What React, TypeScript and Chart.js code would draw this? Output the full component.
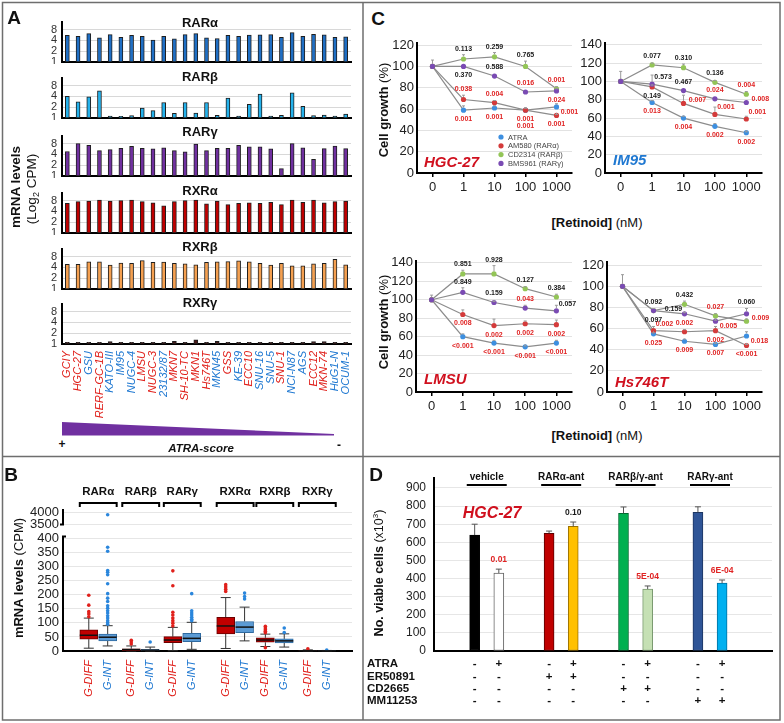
import React, { useEffect, useRef } from 'react';
import { Chart, registerables } from 'chart.js';

Chart.register(...registerables);

const FONT = 'Arial, "Liberation Sans", Helvetica, sans-serif';
Chart.defaults.font.family = FONT;
Chart.defaults.color = '#222';

const RED_TXT = '#e0201b';
const BLUE_TXT = '#1f78d1';

// ================= Panel A data =================
const cellLines = ['GCIY', 'HGC-27', 'GSU', 'RERF-GC-1B', 'KATO-III', 'IM95', 'NUGC-4', 'LMSU', 'NUGC-3', '23132/87', 'MKN7', 'SH-10-TC', 'MKN1', 'Hs746T', 'MKN45', 'GSS', 'KE-39', 'ECC10', 'SNU-16', 'SNU-5', 'SNU-1', 'NCI-N87', 'AGS', 'ECC12', 'MKN-74', 'HuG1-N', 'OCUM-1'];
const cellGroup = ['D', 'D', 'I', 'D', 'I', 'I', 'I', 'D', 'D', 'I', 'D', 'D', 'D', 'D', 'I', 'D', 'I', 'D', 'I', 'I', 'D', 'I', 'I', 'D', 'D', 'I', 'I'];
const aTicks = [1, 2, 4, 8];
const rarA = [5.5, 5.2, 6.2, 4.7, 5.8, 4.9, 5.5, 5.2, 4.1, 5.2, 4.4, 5.8, 6.2, 4.7, 4.5, 5.5, 5.2, 5.6, 5.7, 5.8, 4.9, 6.6, 5.2, 5.9, 5.7, 4.9, 5.0];
const rarB = [4.0, 2.8, 3.9, 5.7, 1.14, 1.11, 1.16, 1.9, 1.6, 2.7, 1.35, 2.7, 1.37, 2.7, 1.18, 3.6, 1.14, 2.4, 4.6, 1.14, 1.18, 5.0, 2.1, 1.16, 1.21, 1.14, 1.29];
const rarG = [4.8, 8.0, 7.2, 5.1, 5.4, 5.9, 6.7, 5.9, 5.7, 6.1, 5.1, 4.7, 7.7, 5.1, 5.9, 5.9, 7.2, 6.5, 6.5, 5.7, 1.6, 8.0, 6.1, 2.9, 5.8, 6.8, 5.8];
const rxrA = [6.7, 7.5, 7.8, 8.3, 7.8, 8.0, 8.3, 7.5, 6.9, 5.7, 7.5, 8.0, 8.3, 6.5, 7.7, 6.2, 6.7, 6.9, 6.7, 7.2, 6.2, 8.3, 7.2, 8.3, 6.9, 7.5, 7.8];
const rxrB = [4.9, 4.9, 5.7, 5.7, 4.6, 5.3, 5.2, 6.2, 5.5, 5.6, 5.2, 5.0, 4.7, 5.5, 5.7, 5.8, 6.1, 5.7, 5.2, 4.6, 5.2, 4.4, 4.4, 5.0, 5.2, 6.7, 4.7];
const rxrG = [1.12, 1.12, 1.12, 1.12, 1.16, 1.12, 1.12, 1.12, 1.12, 1.12, 1.18, 1.12, 1.3, 1.12, 1.18, 1.12, 1.12, 1.12, 1.12, 1.12, 1.12, 1.12, 1.12, 1.16, 1.16, 1.12, 1.12];
const geneNames = ['RARα', 'RARβ', 'RARγ', 'RXRα', 'RXRβ', 'RXRγ'];
const geneColors = ['#1f6fc5', '#25b2ec', '#7030a0', '#c00000', '#f5a050', '#4a1a1a'];
const geneValues = [rarA, rarB, rarG, rxrA, rxrB, rxrG];

// ================= Panel B data =================
const boxGroups = ['G-DIFF', 'G-INT'];
// [lower whisker, q1, median, q3, upper whisker]
const boxStats = [
  [10, 42, 56, 75, 117], [18, 36, 49, 60, 90],
  [0, 1, 5, 8, 18], [0, 1, 3, 6, 14],
  [1, 30, 39, 51, 84], [6, 33, 45, 63, 102],
  [9, 61, 89, 120, 190], [36, 65, 85, 105, 156],
  [16, 31, 39, 47, 60], [14, 29, 36, 43, 61],
  [0, 0.3, 1, 2, 4], [0, 0.2, 0.5, 1, 2],
];
const boxOutliers = [
  [122, 132, 140, 163, 198],
  [95, 101, 108, 117, 125, 135, 143, 152, 161, 176, 188, 204, 239, 271, 280, 286, 355, 369, 3900],
  [25, 32, 38],
  [32],
  [89, 99, 108, 117, 128, 138, 232, 285],
  [108, 113, 120, 128, 135, 143, 204],
  [212, 220, 228, 236],
  [185, 194, 206],
  [12, 65, 70, 76, 82, 88],
  [66, 82],
  [8],
  [3],
];
const bTickVals = [0, 50, 100, 150, 200, 250, 300, 350, 400, 3500, 4000];

// ================= Panel C data =================
const doses = ['0', '1', '10', '100', '1000'];
const seriesNames = ['ATRA', 'AM580 (RARα)', 'CD2314 (RARβ)', 'BMS961 (RARγ)'];
const seriesColors = ['#3d8fe0', '#d43b3b', '#93c557', '#7a4bb3'];

const hgcGrowth = [[100, 59, 61, 59, 62], [100, 69, 66, 59, 54], [100, 107, 109, 100, 79], [100, 100, 91, 76, 77]];
const hgcErr = [[0, 4, 2, 2, 3], [0, 4, 2, 2, 1], [0, 4, 4, 5, 2], [6, 0, 0, 0, 2]];
const hgcP = [['0.001', '0.001', '0.001', '0.001'], ['0.038', '0.004', '0.001', '0.001'], ['0.113', '0.259', '0.765', '0.001'], ['0.370', '0.588', '0.016', '0.024']];
const hgcPos = [['b', 'b', 'b', 'rd'], ['a', 'a', 'B', 'b'], ['a', 'a', 'a', 'a'], ['b', 'a', 'a', 'b']];

const imGrowth = [[100, 77, 60, 51, 44], [100, 94, 76, 64, 59], [100, 118, 115, 99, 86], [100, 97, 90, 81, 77]];
const imErr = [[0, 2, 2, 3, 1], [0, 2, 9, 8, 3], [0, 2, 4, 2, 3], [11, 10, 0, 0, 0]];
const imP = [['0.013', '0.004', '0.002', '0.002'], ['0.149', '0.007', '0.001', '0.001'], ['0.077', '0.310', '0.136', '0.004'], ['0.573', '0.467', '0.024', '0.008']];
const imPos = [['b', 'b', 'b', 'b'], ['b', 'r', 'ar', 'ar'], ['a', 'a', 'a', 'a'], ['ar', 'a', 'a', 'r']];

const lmGrowth = [[100, 60, 53, 49, 53], [100, 84, 72, 74, 73], [100, 128, 128, 112, 103], [100, 108, 97, 91, 88]];
const lmErr = [[0, 3, 3, 1, 3], [0, 5, 7, 3, 5], [0, 4, 9, 2, 3], [5, 5, 1, 3, 6]];
const lmP = [['<0.001', '<0.001', '<0.001', '<0.001'], ['0.008', '0.002', '0.002', '0.002'], ['0.851', '0.928', '0.127', '0.384'], ['0.849', '0.159', '0.043', '0.057']];
const lmPos = [['b', 'b', 'b', 'b'], ['b', 'b', 'b', 'b'], ['a', 'a', 'a', 'a'], ['a', 'a', 'a', 'ar']];

const hsGrowth = [[100, 55, 48, 45, 53], [100, 58, 57, 58, 44], [100, 77, 83, 72, 67], [100, 77, 74, 67, 74]];
const hsErr = [[0, 1, 2, 1, 4], [0, 4, 2, 4, 1], [0, 2, 3, 2, 2], [11, 2, 1, 1, 5]];
const hsP = [['0.025', '0.009', '0.007', '0.018'], ['0.002', '0.002', '0.002', '<0.001'], ['0.092', '0.432', '0.027', '0.009'], ['0.097', '0.159', '0.005', '0.060']];
const hsPos = [['b', 'b', 'b', 'rd'], ['ar', 'a', 'b', 'b'], ['a', 'a', 'a', 'r'], ['b', 'al', 'rd', 'a']];

// ================= Panel D data =================
const dGroups = ['vehicle', 'RARα-ant', 'RARβ/γ-ant', 'RARγ-ant'];
const dViable = [640, 430, 650, 688, 760, 342, 766, 375];
const dErr = [60, 22, 12, 24, 35, 17, 30, 17];
const dP = ['', '0.01', '', '0.10', '', '5E-04', '', '6E-04'];
const dRows = ['ATRA', 'ER50891', 'CD2665', 'MM11253'];
const dSigns = [
  ['-', '+', '-', '+', '-', '+', '-', '+'],
  ['-', '-', '+', '+', '-', '-', '-', '-'],
  ['-', '-', '-', '-', '+', '+', '-', '-'],
  ['-', '-', '-', '-', '-', '-', '+', '+'],
];
const dFill = ['#000000', '#ffffff', '#c00000', '#ffc000', '#00b050', '#c5e0b4', '#2f5597', '#00b0f0'];
const dStroke = ['#000000', '#666666', '#5a0000', '#9a7000', '#006a30', '#7a9a70', '#1c3560', '#0070a0'];

// ================= helpers =================
type Rect = { l: number; t: number; w: number; h: number };
type Area = { l: number; t: number; r: number; b: number };

function zeroPad(s: any) {
  s.paddingLeft = 0; s.paddingRight = 0; s.paddingTop = 0; s.paddingBottom = 0;
}
function frame(box: Rect, area: Area) {
  return {
    padding: { left: 0, top: area.t - box.t, right: box.l + box.w - area.r, bottom: 0 },
    yFit: (s: any) => { s.width = area.l - box.l; zeroPad(s); },
    xFit: (s: any) => { s.height = box.t + box.h - area.b; zeroPad(s); },
  };
}
function baseOpts(f: any) {
  return {
    responsive: false,
    animation: false,
    devicePixelRatio: 1,
    events: [],
    layout: { padding: f.padding },
    plugins: { legend: { display: false }, tooltip: { enabled: false }, title: { display: false } },
  };
}
function isSig(p: string) {
  if (p.startsWith('<')) return true;
  return parseFloat(p) < 0.05;
}
function seg(ctx: any, x1: number, y1: number, x2: number, y2: number) {
  ctx.beginPath(); ctx.moveTo(x1, y1); ctx.lineTo(x2, y2); ctx.stroke();
}

// ================= Panel A charts =================
const aBaselines = [62, 118, 175.5, 233, 289, 344];
const aTitleY = [22, 76, 131, 190, 246, 302];

function geneChart(k: number) {
  const base = aBaselines[k];
  const last = k === geneValues.length - 1;
  const box = { l: 20, t: base - 50, w: 340, h: last ? 428 - (base - 50) : 52 };
  const area = { l: 62, t: base - 40, r: 351, b: base };
  const f = frame(box, area);
  const config = {
    type: 'bar',
    data: {
      labels: cellLines,
      datasets: [{
        data: geneValues[k], backgroundColor: geneColors[k], borderColor: '#1e1e1e',
        borderWidth: 1, barThickness: 4, borderSkipped: false,
      }],
    },
    options: {
      ...baseOpts(f),
      scales: {
        x: {
          grid: { display: false, drawTicks: false },
          border: { display: true, color: '#000', width: 2 },
          ticks: {
            display: last, autoSkip: false, minRotation: 90, maxRotation: 90, padding: 7,
            color: (c: any) => (cellGroup[c.index] === 'D' ? RED_TXT : BLUE_TXT),
            font: { size: 11, style: 'italic' },
          },
          afterFit: f.xFit,
        },
        y: {
          type: 'logarithmic', min: 1, max: 13,
          afterBuildTicks: (s: any) => { s.ticks = aTicks.map((v) => ({ value: v })); },
          ticks: { autoSkip: false, callback: (v: any) => String(v), color: '#333', font: { size: 11 }, padding: 5 },
          grid: { color: (c: any) => (c.tick && c.tick.value === 1 ? 'rgba(0,0,0,0)' : '#d8d8d8'), drawTicks: false },
          border: { display: true, color: '#000', width: 2 },
          afterFit: f.yFit,
        },
      },
    },
  };
  return { box, config };
}

// ================= Panel B chart =================
const brk = (v: number) => (v <= 400 ? v : 450 + (v - 3500) * 0.086);
const bPairStart = [0, 2.25, 4.45, 7.25, 9.35, 11.6];
const bx = bPairStart.flatMap((p) => [p, p + 1]);
const bGenes = ['RARα', 'RARβ', 'RARγ', 'RXRα', 'RXRβ', 'RXRγ'];

function boxChart() {
  const box = { l: 10, t: 482, w: 350, h: 222 };
  const area = { l: 63, t: 509, r: 352, b: 651 };
  const f = frame(box, area);
  const red: any[] = [];
  const blue: any[] = [];
  boxOutliers.forEach((arr, i) => arr.forEach((v) => (i % 2 ? blue : red).push({ x: bx[i], y: brk(v) })));
  const half = 9;
  const plugin = {
    id: 'boxplot',
    beforeDatasetsDraw(chart: any) {
      const { ctx, scales: { x, y } } = chart;
      ctx.save();
      ctx.strokeStyle = '#333'; ctx.lineWidth = 1;
      boxStats.forEach((s, i) => {
        const px = x.getPixelForValue(bx[i]);
        seg(ctx, px, y.getPixelForValue(s[3]), px, y.getPixelForValue(s[4]));
        seg(ctx, px - 5, y.getPixelForValue(s[4]), px + 5, y.getPixelForValue(s[4]));
        seg(ctx, px, y.getPixelForValue(s[1]), px, y.getPixelForValue(s[0]));
        seg(ctx, px - 5, y.getPixelForValue(s[0]), px + 5, y.getPixelForValue(s[0]));
      });
      ctx.restore();
    },
    afterDatasetsDraw(chart: any) {
      const { ctx, scales: { x, y } } = chart;
      ctx.save();
      ctx.strokeStyle = '#111'; ctx.lineWidth = 1.5;
      boxStats.forEach((s, i) => {
        const px = x.getPixelForValue(bx[i]);
        const py = y.getPixelForValue(s[2]);
        seg(ctx, px - half, py, px + half, py);
      });
      ctx.restore();
    },
    afterDraw(chart: any) {
      const { ctx, chartArea, scales: { x, y } } = chart;
      ctx.save();
      ctx.strokeStyle = '#000'; ctx.lineWidth = 2;
      ctx.fillStyle = '#111';
      ctx.font = `bold 11.5px ${FONT}`;
      ctx.textAlign = 'center'; ctx.textBaseline = 'middle';
      bGenes.forEach((g, k) => {
        const x1 = x.getPixelForValue(bx[2 * k]) - half;
        const x2 = x.getPixelForValue(bx[2 * k + 1]) + half;
        const yy = 21;
        ctx.beginPath(); ctx.moveTo(x1, yy + 4); ctx.lineTo(x1, yy); ctx.lineTo(x2, yy); ctx.lineTo(x2, yy + 4); ctx.stroke();
        ctx.fillText(g, (x1 + x2) / 2, 10);
      });
      const ax = chartArea.left;
      const y0 = y.getPixelForValue(0);
      const y400 = y.getPixelForValue(400) - 2;
      const y3500 = y.getPixelForValue(brk(3500));
      ctx.beginPath(); ctx.moveTo(ax, y0 + 1); ctx.lineTo(ax, y400); ctx.lineTo(ax + 3, y400); ctx.stroke();
      ctx.beginPath(); ctx.moveTo(ax, chartArea.top); ctx.lineTo(ax, y3500); ctx.lineTo(ax - 3, y3500); ctx.stroke();
      ctx.restore();
    },
  };
  const config = {
    type: 'bar',
    data: {
      datasets: [
        {
          type: 'bar',
          data: boxStats.map((s, i) => ({ x: bx[i], y: [s[1], s[3]] })),
          backgroundColor: bx.map((_, i) => (i % 2 ? '#5b9bd5' : '#c00000')),
          borderColor: bx.map((_, i) => (i % 2 ? '#2f6aa0' : '#6b0000')),
          borderWidth: 1, barThickness: 18, grouped: false, borderSkipped: false, order: 2,
        },
        { type: 'scatter', data: red, backgroundColor: '#e0201b', borderWidth: 0, pointRadius: 1.8, order: 1 },
        { type: 'scatter', data: blue, backgroundColor: '#2a86dc', borderWidth: 0, pointRadius: 1.8, order: 0 },
      ],
    },
    options: {
      ...baseOpts(f),
      scales: {
        x: {
          type: 'linear', min: -0.728, max: 13.3,
          afterBuildTicks: (s: any) => { s.ticks = bx.map((v) => ({ value: v })); },
          grid: { display: false, drawTicks: false },
          border: { display: true, color: '#000', width: 2 },
          ticks: {
            autoSkip: false, minRotation: 90, maxRotation: 90, padding: 9,
            callback: (_v: any, i: number) => boxGroups[i % 2],
            color: (c: any) => (c.index % 2 ? BLUE_TXT : RED_TXT),
            font: { size: 11, style: 'italic' },
          },
          afterFit: f.xFit,
        },
        y: {
          type: 'linear', min: 0, max: 505,
          afterBuildTicks: (s: any) => { s.ticks = bTickVals.map((v) => ({ value: brk(v) })); },
          ticks: { autoSkip: false, callback: (_v: any, i: number) => String(bTickVals[i]), color: '#222', font: { size: 13 }, padding: 4 },
          grid: { color: (c: any) => (c.tick && c.tick.value === 0 ? 'rgba(0,0,0,0)' : '#e6e6e6'), drawTicks: false },
          border: { display: false },
          afterFit: f.yFit,
        },
      },
    },
    plugins: [plugin],
  };
  return { box, config };
}

// ================= Panel C charts =================
const pOffsets: Record<string, [number, number]> = {
  a: [0, -6], b: [0, 9], B: [0, 16], r: [14, -3], rd: [13, 5], ar: [11, -7], al: [-11, -5],
};
const cSpecs = [
  { name: 'HGC-27', box: { l: 386, t: 30, w: 192, h: 172 }, area: { l: 417, t: 43, r: 572, b: 173 }, max: 122, tickMax: 120, values: hgcGrowth, errs: hgcErr, pvals: hgcP, pos: hgcPos, legend: true },
  { name: 'IM95', box: { l: 578, t: 30, w: 200, h: 172 }, area: { l: 605, t: 43, r: 762, b: 173 }, max: 142, tickMax: 140, values: imGrowth, errs: imErr, pvals: imP, pos: imPos, legend: false },
  { name: 'LMSU', box: { l: 386, t: 249, w: 192, h: 172 }, area: { l: 416, t: 261, r: 572, b: 392 }, max: 142, tickMax: 140, values: lmGrowth, errs: lmErr, pvals: lmP, pos: lmPos, legend: false },
  { name: 'Hs746T', box: { l: 578, t: 249, w: 200, h: 172 }, area: { l: 607, t: 262, r: 762, b: 392 }, max: 123, tickMax: 120, values: hsGrowth, errs: hsErr, pvals: hsP, pos: hsPos, legend: false },
];

function growthChart(spec: any) {
  const f = frame(spec.box, spec.area);
  const ticks: number[] = [];
  for (let v = 0; v <= spec.tickMax; v += 20) ticks.push(v);
  const plugin = {
    id: 'growthAnnot',
    afterDatasetsDraw(chart: any) {
      const { ctx, scales: { y } } = chart;
      ctx.save();
      ctx.strokeStyle = '#9a9a9a'; ctx.lineWidth = 1;
      spec.values.forEach((vals: number[], s: number) => {
        const meta = chart.getDatasetMeta(s);
        vals.forEach((v, i) => {
          const e = spec.errs[s][i];
          if (!e) return;
          const el = meta.data[i];
          const ty = y.getPixelForValue(v + e);
          seg(ctx, el.x, el.y - 2.6, el.x, ty);
          seg(ctx, el.x - 1.5, ty, el.x + 1.5, ty);
        });
      });
      ctx.font = `bold 7px ${FONT}`;
      ctx.textAlign = 'center'; ctx.textBaseline = 'middle';
      spec.pvals.forEach((ps: string[], s: number) => {
        const meta = chart.getDatasetMeta(s);
        ps.forEach((p, j) => {
          const i = j + 1;
          const el = meta.data[i];
          const code = spec.pos[s][j];
          const [dx, dy] = pOffsets[code];
          let yy = el.y + dy;
          if (code === 'a') {
            const top = y.getPixelForValue(spec.values[s][i] + spec.errs[s][i]);
            yy = Math.min(el.y - 3, top) + dy;
          }
          ctx.fillStyle = isSig(p) ? '#e02424' : '#1a1a1a';
          ctx.fillText(p, el.x + dx, yy);
        });
      });
      if (spec.legend) {
        const a = chart.chartArea;
        ctx.font = `7.5px ${FONT}`;
        ctx.textAlign = 'left';
        seriesNames.forEach((n, k) => {
          const ly = a.top + 94 + k * 8.8;
          ctx.fillStyle = seriesColors[k];
          ctx.beginPath(); ctx.arc(a.left + 84, ly, 2.6, 0, Math.PI * 2); ctx.fill();
          ctx.fillStyle = '#444';
          ctx.fillText(n, a.left + 91, ly + 0.5);
        });
      }
      ctx.restore();
    },
  };
  const config = {
    type: 'line',
    data: {
      labels: doses,
      datasets: spec.values.map((vals: number[], s: number) => ({
        label: seriesNames[s], data: vals, borderColor: '#8c8c8c', borderWidth: 1.2,
        pointRadius: 2.6, pointBackgroundColor: seriesColors[s], pointBorderColor: seriesColors[s],
        pointBorderWidth: 0, tension: 0, order: 3 - s,
      })),
    },
    options: {
      ...baseOpts(f),
      scales: {
        x: {
          type: 'category', offset: true,
          grid: { display: true, drawOnChartArea: false, drawTicks: true, tickLength: 4, color: '#000', lineWidth: 1.5 },
          border: { display: true, color: '#000', width: 2 },
          ticks: { color: '#222', font: { size: 13 }, padding: 3, autoSkip: false, maxRotation: 0 },
          afterFit: f.xFit,
        },
        y: {
          type: 'linear', min: 0, max: spec.max,
          afterBuildTicks: (s: any) => { s.ticks = ticks.map((v) => ({ value: v })); },
          ticks: { autoSkip: false, color: '#222', font: { size: 13 }, padding: 3 },
          grid: { color: (c: any) => (c.tick && c.tick.value === 0 ? 'rgba(0,0,0,0)' : '#e2e2e2'), drawTicks: false },
          border: { display: true, color: '#000', width: 2 },
          afterFit: f.yFit,
        },
      },
    },
    plugins: [plugin],
  };
  return { box: spec.box, config };
}

// ================= Panel D chart =================
const dPairStart = [0, 3.08, 6.16, 9.24];
const dxPos = dPairStart.flatMap((p) => [p, p + 1]);

function viableChart() {
  const box = { l: 360, t: 468, w: 420, h: 246 };
  const area = { l: 434, t: 478, r: 772, b: 651 };
  const f = frame(box, area);
  const rowY = [196, 209, 221, 233];
  const plugin = {
    id: 'viableAnnot',
    afterDatasetsDraw(chart: any) {
      const { ctx, scales: { x, y } } = chart;
      ctx.save();
      ctx.strokeStyle = '#555'; ctx.lineWidth = 1;
      ctx.textAlign = 'center'; ctx.textBaseline = 'middle';
      dViable.forEach((v, i) => {
        const px = x.getPixelForValue(dxPos[i]);
        const top = y.getPixelForValue(v);
        const ey = y.getPixelForValue(v + dErr[i]);
        seg(ctx, px, top, px, ey);
        seg(ctx, px - 3, ey, px + 3, ey);
        if (dP[i]) {
          ctx.font = `bold 8.5px ${FONT}`;
          ctx.fillStyle = isSig(dP[i]) ? '#e02424' : '#1a1a1a';
          ctx.fillText(dP[i], px, ey - 9);
        }
      });
      ctx.strokeStyle = '#000'; ctx.lineWidth = 2;
      ctx.fillStyle = '#111';
      ctx.font = `bold 10px ${FONT}`;
      dGroups.forEach((g, k) => {
        const cx = (x.getPixelForValue(dxPos[2 * k]) + x.getPixelForValue(dxPos[2 * k + 1])) / 2;
        ctx.fillText(g, cx, 9);
        seg(ctx, cx - 20, 17, cx + 20, 17);
      });
      ctx.font = `bold 11.5px ${FONT}`;
      dRows.forEach((r, k) => {
        ctx.textAlign = 'left';
        ctx.fillText(r, 7, rowY[k]);
        ctx.textAlign = 'center';
        dSigns[k].forEach((sg, i) => {
          ctx.fillText(sg, x.getPixelForValue(dxPos[i]), rowY[k]);
        });
      });
      ctx.restore();
    },
  };
  const config = {
    type: 'bar',
    data: {
      datasets: [{
        data: dViable.map((v, i) => ({ x: dxPos[i], y: v })),
        backgroundColor: dFill, borderColor: dStroke, borderWidth: 1,
        barThickness: 10, grouped: false, borderSkipped: false,
      }],
    },
    options: {
      ...baseOpts(f),
      scales: {
        x: {
          type: 'linear', min: -0.517, max: 11.14,
          grid: { display: false, drawTicks: false },
          border: { display: true, color: '#000', width: 2 },
          ticks: { display: false },
          afterFit: f.xFit,
        },
        y: {
          type: 'linear', min: 0, max: 955,
          afterBuildTicks: (s: any) => {
            const t: any[] = [];
            for (let v = 0; v <= 900; v += 100) t.push({ value: v });
            s.ticks = t;
          },
          ticks: { autoSkip: false, color: '#222', font: { size: 12 }, padding: 8 },
          grid: { color: (c: any) => (c.tick && c.tick.value === 0 ? 'rgba(0,0,0,0)' : '#e6e6e6'), drawTicks: false },
          border: { display: true, color: '#000', width: 2 },
          afterFit: f.yFit,
        },
      },
    },
    plugins: [plugin],
  };
  return { box, config };
}

// ================= components =================
function ChartCanvas({ box, config }: { box: Rect; config: any }) {
  const ref = useRef<HTMLCanvasElement | null>(null);
  useEffect(() => {
    if (!ref.current) return;
    const chart = new Chart(ref.current, config);
    return () => chart.destroy();
  }, []);
  return (
    <canvas
      ref={ref}
      width={box.w}
      height={box.h}
      style={{ position: 'absolute', left: box.l, top: box.t, width: box.w, height: box.h }}
    />
  );
}

function Txt({ x, y, rot = 0, align = 'c', style = {}, children }: any) {
  const tx = align === 'c' ? '-50%' : align === 'l' ? '0%' : '-100%';
  return (
    <div
      style={{
        position: 'absolute', left: x, top: y, transform: `translate(${tx},-50%) rotate(${rot}deg)`,
        whiteSpace: 'nowrap', lineHeight: 1, fontFamily: FONT, color: '#111', ...style,
      }}
    >
      {children}
    </div>
  );
}

export default function App() {
  const aCharts = geneValues.map((_, k) => geneChart(k));
  const bChart = boxChart();
  const cCharts = cSpecs.map((s) => growthChart(s));
  const dChart = viableChart();
  const panelLetter = { fontWeight: 'bold', fontSize: 19 };
  const bold13 = { fontWeight: 'bold' as const };
  return (
    <div style={{ position: 'absolute', left: 0, top: 0, width: 784, height: 723, background: '#fff', overflow: 'hidden', fontFamily: FONT }}>
      <svg width={784} height={723} style={{ position: 'absolute', left: 0, top: 0 }}>
        <rect x={2.5} y={2.5} width={777.5} height={717.5} fill="none" stroke="#6e6e6e" strokeWidth={1.5} />
        <line x1={363} y1={2.5} x2={363} y2={720} stroke="#6e6e6e" strokeWidth={1.5} />
        <line x1={2.5} y1={456.5} x2={780} y2={456.5} stroke="#6e6e6e" strokeWidth={1.5} />
        <polygon points="62,422 334,434 334,435.5 62,435.5" fill="#7030a0" />
      </svg>

      {aCharts.map((c, k) => <ChartCanvas key={'a' + k} box={c.box} config={c.config} />)}
      <ChartCanvas box={bChart.box} config={bChart.config} />
      {cCharts.map((c, k) => <ChartCanvas key={'c' + k} box={c.box} config={c.config} />)}
      <ChartCanvas box={dChart.box} config={dChart.config} />

      <Txt x={14} y={17} style={panelLetter}>A</Txt>
      <Txt x={11} y={474} style={panelLetter}>B</Txt>
      <Txt x={378} y={18} style={panelLetter}>C</Txt>
      <Txt x={376} y={474} style={panelLetter}>D</Txt>

      {geneNames.map((g, k) => (
        <Txt key={'t' + k} x={200} y={aTitleY[k]} style={{ fontWeight: 'bold', fontSize: 13 }}>{g}</Txt>
      ))}
      <Txt x={16} y={187} rot={-90} style={{ fontWeight: 'bold', fontSize: 13.5 }}>mRNA levels</Txt>
      <Txt x={33} y={189} rot={-90} style={{ fontSize: 13.5 }}>
        (Log<sub style={{ fontSize: 9 }}>2</sub> CPM)
      </Txt>
      <Txt x={62} y={444} style={{ fontWeight: 'bold', fontSize: 12 }}>+</Txt>
      <Txt x={339} y={445} style={{ fontWeight: 'bold', fontSize: 12 }}>-</Txt>
      <Txt x={201} y={449} style={{ fontWeight: 'bold', fontStyle: 'italic', fontSize: 11.5 }}>ATRA-score</Txt>

      <Txt x={18} y={578} rot={-90} style={{ fontSize: 13 }}>
        <span style={bold13}>mRNA levels</span> (CPM)
      </Txt>

      <Txt x={383} y={110} rot={-90} style={{ fontSize: 13 }}>
        <span style={bold13}>Cell growth</span> (%)
      </Txt>
      <Txt x={383} y={322} rot={-90} style={{ fontSize: 13 }}>
        <span style={bold13}>Cell growth</span> (%)
      </Txt>
      <Txt x={597} y={222} style={{ fontSize: 13 }}>
        <span style={bold13}>[Retinoid]</span> (nM)
      </Txt>
      <Txt x={597} y={435} style={{ fontSize: 13 }}>
        <span style={bold13}>[Retinoid]</span> (nM)
      </Txt>
      <Txt x={424} y={161} align="l" style={{ fontWeight: 'bold', fontStyle: 'italic', fontSize: 15, color: '#d0101e' }}>HGC-27</Txt>
      <Txt x={613} y={159} align="l" style={{ fontWeight: 'bold', fontStyle: 'italic', fontSize: 15, color: '#1f78d1' }}>IM95</Txt>
      <Txt x={424} y={378} align="l" style={{ fontWeight: 'bold', fontStyle: 'italic', fontSize: 15, color: '#d0101e' }}>LMSU</Txt>
      <Txt x={615} y={381} align="l" style={{ fontWeight: 'bold', fontStyle: 'italic', fontSize: 15, color: '#d0101e' }}>Hs746T</Txt>

      <Txt x={379} y={573} rot={-90} style={{ fontSize: 12.5 }}>
        <span style={bold13}>No. viable cells</span> (x10<sup style={{ fontSize: 8 }}>3</sup>)
      </Txt>
      <Txt x={492} y={513} style={{ fontWeight: 'bold', fontStyle: 'italic', fontSize: 16, color: '#d0101e' }}>HGC-27</Txt>
    </div>
  );
}
